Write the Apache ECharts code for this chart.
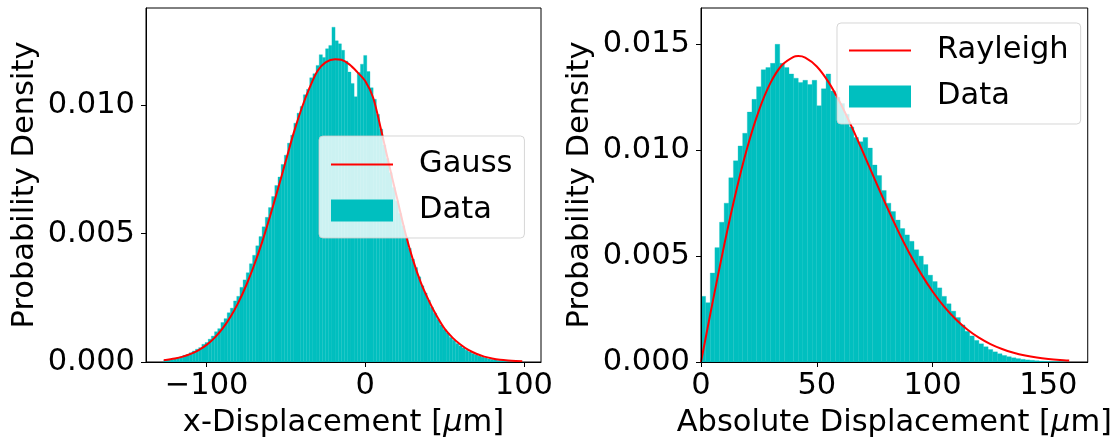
<!DOCTYPE html>
<html>
<head>
<meta charset="utf-8">
<script src="https://cdn.jsdelivr.net/npm/echarts@6/dist/echarts.min.js"></script>
<style>
  html, body { margin: 0; padding: 0; background: #fff; }
  #chart { width: 1115px; height: 444px; }
</style>
</head>
<body>
<div id="chart"></div>
<script>
// ---- x-displacement histogram (bins of 2 µm starting at -127 µm) ----
const xBinStart = -127;
const xBinWidth = 2;
const xDensity = [
  0.00008, 0.00010, 0.00009, 0.00014, 0.00017, 0.00020, 0.00026, 0.00029, 0.00036, 0.00043,
  0.00050, 0.00056, 0.00069, 0.00076, 0.00089, 0.00101, 0.00118, 0.00130, 0.00154, 0.00169,
  0.00192, 0.00210, 0.00238, 0.00256, 0.00291, 0.00320, 0.00348, 0.00383, 0.00416, 0.00453,
  0.00489, 0.00527, 0.00564, 0.00602, 0.00645, 0.00688, 0.00721, 0.00770, 0.00806, 0.00853,
  0.00884, 0.00931, 0.00970, 0.00996, 0.01042, 0.01063, 0.01108, 0.01124, 0.01156, 0.01198,
  0.01187, 0.01221, 0.01234, 0.01305, 0.01252, 0.01240, 0.01215, 0.01173, 0.01130, 0.01086,
  0.01034, 0.01128, 0.01161, 0.01195, 0.01132, 0.01069, 0.01024, 0.00965, 0.00908, 0.00846,
  0.00793, 0.00738, 0.00680, 0.00627, 0.00579, 0.00531, 0.00486, 0.00443, 0.00401, 0.00368,
  0.00332, 0.00297, 0.00269, 0.00241, 0.00213, 0.00190, 0.00166, 0.00145, 0.00127, 0.00113,
  0.00096, 0.00085, 0.00072, 0.00063, 0.00055, 0.00046, 0.00039, 0.00033, 0.00028, 0.00023,
  0.00019, 0.00016, 0.00012, 0.00010, 0.00008, 0.00006, 0.00005, 0.000035, 0.000025, 0.00002,
  0.000012, 0.000008, 0.000005
];

// Gauss fit, sampled along x
const gaussX = [-127, -120, -115, -110, -105, -100, -95, -90, -85, -80, -75, -70, -65, -60, -55,
  -50, -45, -40, -35, -30, -25, -19, -15, -10, -5, 0, 5, 10, 15, 20, 25, 30, 35, 40, 45, 50,
  55, 60, 65, 70, 75, 80, 85, 90, 95, 99];
const gaussY = [0.0000716, 0.000136, 0.000209, 0.000315, 0.000464, 0.000668, 0.000942, 0.001299,
  0.001753, 0.002315, 0.002991, 0.003781, 0.004674, 0.005680, 0.006750, 0.007850, 0.008950,
  0.009900, 0.010700, 0.011350, 0.011680, 0.011800, 0.011780, 0.011600, 0.011300, 0.010950,
  0.010300, 0.009050, 0.007700, 0.006400, 0.005100, 0.004000, 0.003100, 0.002400, 0.001800,
  0.001300, 0.000950, 0.000680, 0.000470, 0.000320, 0.000210, 0.000140, 0.000090, 0.000060,
  0.000040, 0.000030];

// ---- absolute displacement histogram (bins of 2 µm starting at 0) ----
const rBinStart = 0;
const rBinWidth = 2;
const rDensity = [
  0.00310, 0.00280, 0.00420, 0.00540, 0.00660, 0.00750, 0.00870, 0.00950, 0.01020, 0.01080,
  0.01180, 0.01240, 0.01300, 0.01380, 0.01390, 0.01410, 0.01500, 0.01410, 0.01390, 0.01360,
  0.01340, 0.01320, 0.01330, 0.01310, 0.01330, 0.01210, 0.01290, 0.01360, 0.01280, 0.01250,
  0.01220, 0.01170, 0.01110, 0.01060, 0.01040, 0.01060, 0.01010, 0.00930, 0.00880, 0.00810,
  0.00750, 0.00710, 0.00670, 0.00630, 0.00600, 0.00570, 0.00530, 0.00500, 0.00460, 0.00410,
  0.00380, 0.00350, 0.00310, 0.00275, 0.00240, 0.00210, 0.00175, 0.00145, 0.00123, 0.00102,
  0.00086, 0.00072, 0.00059, 0.00048, 0.00039, 0.00031, 0.00025, 0.00020, 0.00016, 0.000125,
  0.00010, 0.00008, 0.00006, 0.000045, 0.000035, 0.000025, 0.000018, 0.000012, 0.000008
];

// Rayleigh fit, sampled along r
const rayleighX = [0, 5, 10, 15, 20, 25, 30, 35, 40, 42, 45, 50, 55, 60, 65, 70, 75, 80, 85, 90,
  95, 100, 105, 110, 115, 120, 125, 130, 135, 140, 145, 150, 155, 159];
const rayleighY = [0, 0.002814, 0.005511, 0.007978, 0.010123, 0.011871, 0.013177, 0.014021,
  0.014409, 0.014442, 0.014370, 0.013955, 0.013227, 0.012260, 0.011125, 0.009895, 0.008632,
  0.007391, 0.006216, 0.005136, 0.004172, 0.003331, 0.002616, 0.002020, 0.001535, 0.001148,
  0.000845, 0.000613, 0.000437, 0.000307, 0.000212, 0.000145, 0.0000969, 0.0000697];

// Tick values
const xTicks = [-100, 0, 100];
const rTicks = [0, 50, 100, 150];
const yTicksLeft = [0, 0.005, 0.010];
const yTicksRight = [0, 0.005, 0.010, 0.015];

const FONT = 'DejaVu Sans';
const FS = 30.5;
const BAR_COLOR = '#00bfbf';
const FIT_COLOR = '#ff0000';
// legend handle for the fitted curves: a 2px stroke across a 62x22 box
const LINE_HANDLE = 'path://M0,0L0.01,0L0,0.01Z M0,10H62V12H0Z M62,22L61.99,22L62,21.99Z';

function binsToItems(start, width, values) {
  return values.map((v, i) => [start + i * width, start + (i + 1) * width, v]);
}
function pairs(xs, ys) { return xs.map((x, i) => [x, ys[i]]); }

function renderBin(params, api) {
  const p0 = api.coord([api.value(0), api.value(2)]);
  const p1 = api.coord([api.value(1), 0]);
  return {
    type: 'rect',
    shape: { x: p0[0], y: p0[1], width: p1[0] - p0[0], height: p1[1] - p0[1] },
    style: { fill: api.visual('color'), stroke: api.visual('color'), lineWidth: 0.3 }
  };
}

const minus = v => (v < 0 ? '\u2212' + Math.abs(v) : String(v));
const fixed3 = v => v.toFixed(3);

function xAxisOf(gridIndex, min, max, ticks, nameRich) {
  return {
    gridIndex, type: 'value', min, max, z: 10,
    axisLine: { show: true, onZero: false, lineStyle: { color: '#000', width: 1 } },
    axisTick: { show: true, length: 5, customValues: ticks, lineStyle: { color: '#000', width: 1 } },
    axisLabel: { customValues: ticks, formatter: minus, fontSize: FS, fontFamily: FONT, color: '#000', margin: 9 },
    splitLine: { show: false },
    name: nameRich, nameLocation: 'middle', nameGap: 46,
    nameTextStyle: { fontSize: FS, fontFamily: FONT, color: '#000',
      rich: { i: { fontSize: FS, fontFamily: FONT, fontStyle: 'italic', color: '#000' } } }
  };
}
function yAxisOf(gridIndex, max, ticks) {
  return {
    gridIndex, type: 'value', min: 0, max, z: 10,
    axisLine: { show: true, onZero: false, lineStyle: { color: '#000', width: 1 } },
    axisTick: { show: true, length: 5, customValues: ticks, lineStyle: { color: '#000', width: 1 } },
    axisLabel: { customValues: ticks, formatter: fixed3, fontSize: FS, fontFamily: FONT, color: '#000', margin: 11 },
    splitLine: { show: false },
    name: 'Probability Density', nameLocation: 'middle', nameGap: 105,
    nameTextStyle: { fontSize: FS, fontFamily: FONT, color: '#000' }
  };
}
function legendOf(left, top, names, padding) {
  return {
    orient: 'vertical', left, top, padding, itemGap: 15,
    itemWidth: 62, itemHeight: 22, selectedMode: false, z: 20,
    backgroundColor: 'rgba(255,255,255,0.8)',
    borderColor: 'rgba(204,204,204,0.8)', borderWidth: 1, borderRadius: 4,
    textStyle: { fontSize: FS, fontFamily: FONT, color: '#000', padding: [0, 0, 0, 21] },
    data: names.map(n => ({ name: n, icon: n === 'Data' ? 'rect' : LINE_HANDLE }))
  };
}

const chart = echarts.init(document.getElementById('chart'), null, { renderer: 'canvas' });
chart.setOption({
  animation: false,
  textStyle: { fontFamily: FONT },
  grid: [
    { left: 146, top: 8, width: 395, height: 356, show: true, borderColor: '#000', borderWidth: 1, backgroundColor: 'transparent' },
    { left: 701, top: 8, width: 395, height: 356, show: true, borderColor: '#000', borderWidth: 1, backgroundColor: 'transparent' }
  ],
  xAxis: [
    xAxisOf(0, -138.2, 110.8, xTicks, 'x-Displacement [{i|\u03bc}m]'),
    xAxisOf(1, 0, 167.0, rTicks, 'Absolute Displacement [{i|\u03bc}m]')
  ],
  yAxis: [
    yAxisOf(0, 0.013798, yTicksLeft),
    yAxisOf(1, 0.016714, yTicksRight)
  ],
  legend: [
    legendOf(319, 136, ['Gauss', 'Data'], [13, 12, 12, 12]),
    legendOf(837, 23, ['Rayleigh', 'Data'], [12, 12, 12, 12])
  ],
  series: [
    {
      name: 'Data', type: 'custom', xAxisIndex: 0, yAxisIndex: 0,
      itemStyle: { color: BAR_COLOR }, renderItem: renderBin,
      encode: { x: [0, 1], y: 2 }, data: binsToItems(xBinStart, xBinWidth, xDensity), z: 2
    },
    {
      name: 'Gauss', type: 'line', xAxisIndex: 0, yAxisIndex: 0,
      data: pairs(gaussX, gaussY), smooth: 0.3, symbol: 'none',
      itemStyle: { color: FIT_COLOR }, lineStyle: { color: FIT_COLOR, width: 2 }, z: 3
    },
    {
      name: 'Rayleigh', type: 'line', xAxisIndex: 1, yAxisIndex: 1,
      data: pairs(rayleighX, rayleighY), smooth: 0.3, symbol: 'none',
      itemStyle: { color: FIT_COLOR }, lineStyle: { color: FIT_COLOR, width: 2 }, z: 3
    },
    {
      name: 'Data', type: 'custom', xAxisIndex: 1, yAxisIndex: 1,
      itemStyle: { color: BAR_COLOR }, renderItem: renderBin,
      encode: { x: [0, 1], y: 2 }, data: binsToItems(rBinStart, rBinWidth, rDensity), z: 2
    }
  ]
});
</script>
</body>
</html>
